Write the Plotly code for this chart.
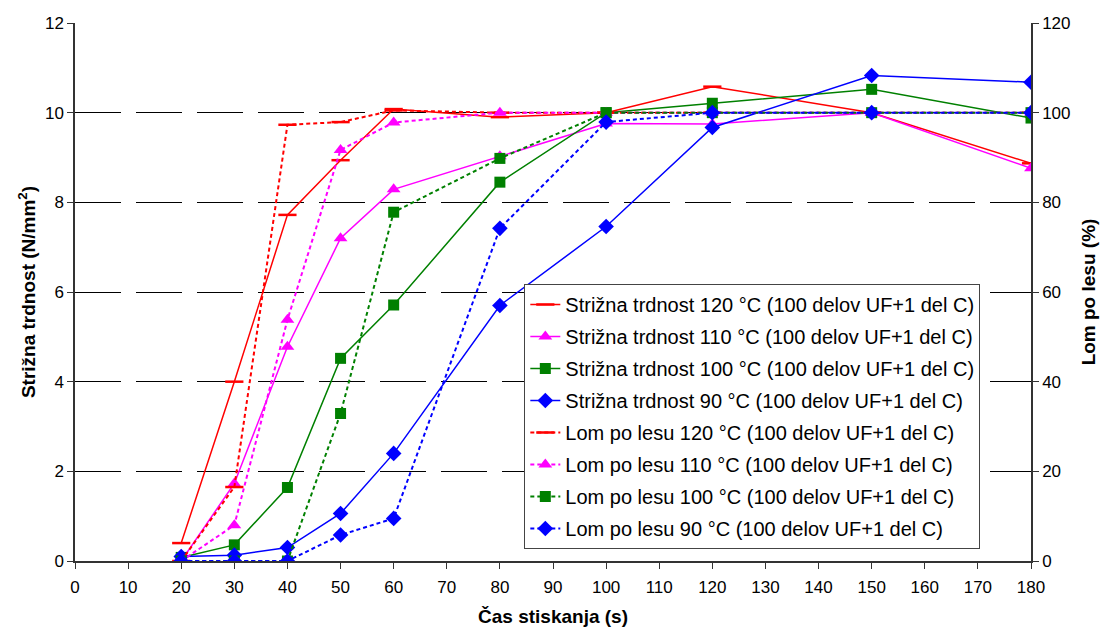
import plotly.graph_objects as go

time_s = [20, 30, 40, 50, 60, 80, 100, 120, 150, 180]

shear_120 = [0.4, 4.0, 7.72, 8.94, 10.08, 9.9, 10.0, 10.58, 10.0, 8.87]
shear_110 = [0.0, 1.73, 4.78, 7.2, 8.29, 9.03, 9.76, 9.75, 10.0, 8.76]
shear_100 = [0.08, 0.36, 1.64, 4.52, 5.71, 8.45, 10.0, 10.21, 10.52, 9.88]
shear_90 = [0.1, 0.13, 0.3, 1.06, 2.4, 5.7, 7.46, 9.67, 10.83, 10.68]

lom_120 = [0, 16.5, 97.3, 97.9, 100.5, 100, 100, 100, 100, 100]
lom_110 = [0, 8.0, 53.8, 91.7, 97.8, 100, 100, 100, 100, 100]
lom_100 = [0, 0, 0, 32.9, 77.8, 89.8, 100, 100, 100, 100]
lom_90 = [0, 0, 0, 5.8, 9.5, 74.2, 97.9, 100, 100, 100]

suffix = " (100 delov UF+1 del C)"
temps = ["120 °C", "110 °C", "100 °C", "90 °C"]
colors = ["#FF0000", "#FF00FF", "#008000", "#0000FF"]
symbols = ["line-ew", "triangle-up", "square", "diamond"]
sizes = [13, 12, 11, 12]

fig = go.Figure()

k = 0
for vals, t, c, s, sz in zip([shear_120, shear_110, shear_100, shear_90], temps, colors, symbols, sizes):
    fig.add_trace(go.Scatter(
        x=time_s, y=vals, mode="lines+markers",
        name="Strižna trdnost " + t + suffix,
        legendgroup="g%d" % k,
        line=dict(color=c, width=1.5),
        marker=dict(symbol=s, size=sz, color=c, line=dict(color=c, width=2.5 if s == "line-ew" else 0)),
        yaxis="y",
    ))
    k += 1

for vals, t, c, s, sz in zip([lom_120, lom_110, lom_100, lom_90], temps, colors, symbols, sizes):
    fig.add_trace(go.Scatter(
        x=time_s, y=vals, mode="lines+markers",
        name="Lom po lesu " + t + suffix,
        legendgroup="g%d" % k,
        line=dict(color=c, width=2, dash="4px,3px"),
        marker=dict(symbol=s, size=sz, color=c, line=dict(color=c, width=2.5 if s == "line-ew" else 0)),
        yaxis="y2",
    ))
    k += 1

font_main = "Liberation Sans, Arial, sans-serif"

fig.update_layout(
    width=1102, height=622,
    margin=dict(l=67, r=79, t=15, b=69),
    paper_bgcolor="white", plot_bgcolor="white",
    font=dict(family=font_main, size=17, color="black"),
    xaxis=dict(
        range=[0, 180], dtick=10, tick0=0, automargin=False,
        showline=True, linecolor="#333333", linewidth=1.5,
        ticks="outside", ticklen=6, tickcolor="#333333",
        ticklabelstandoff=4,
        showgrid=False, zeroline=False,
        title=dict(text="<b>Čas stiskanja (s)</b>", font=dict(size=19), standoff=14),
        tickfont=dict(size=17),
    ),
    yaxis=dict(
        range=[0, 12], dtick=2, tick0=0, automargin=False,
        showline=True, linecolor="#333333", linewidth=1.5,
        ticks="outside", ticklen=6, tickcolor="#333333",
        showgrid=True, gridcolor="black", gridwidth=1, griddash="46px,15px",
        zeroline=False,
        title=dict(text="<b>Strižna trdnost (N/mm<sup>2</sup>)</b>", font=dict(size=19), standoff=4),
        tickfont=dict(size=17),
    ),
    yaxis2=dict(
        range=[0, 120], dtick=20, tick0=0, automargin=False,
        overlaying="y", side="right",
        showline=True, linecolor="#333333", linewidth=1.5,
        ticks="outside", ticklen=6, tickcolor="#333333",
        showgrid=False, zeroline=False,
        title=dict(text="<b>Lom po lesu (%)</b>", font=dict(size=19), standoff=12),
        tickfont=dict(size=17),
    ),
    legend=dict(
        x=0.47, y=0.515, xanchor="left", yanchor="top",
        bgcolor="white", bordercolor="#444444", borderwidth=1,
        font=dict(size=20), tracegroupgap=3,
    ),
    showlegend=True,
)

fig.write_html("out.html")
